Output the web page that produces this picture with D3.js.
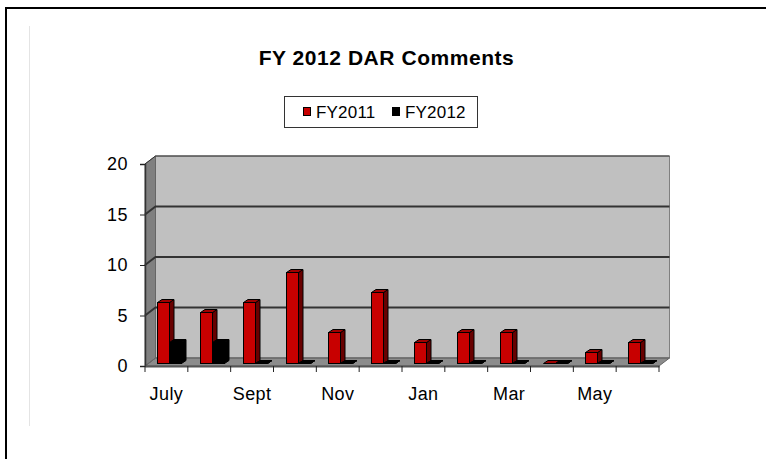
<!DOCTYPE html>
<html>
<head>
<meta charset="utf-8">
<script src="https://d3js.org/d3.v7.min.js"></script>
<style>
  body { margin: 0; background: #fff; }
  svg { display: block; }
  text { font-family: "Liberation Sans", Arial, sans-serif; fill: #000; }
  .axis path { display: none; }
  .axis line { stroke: #222; stroke-width: 1; }
</style>
</head>
<body>
<div id="chart"></div>
<script>
// Chart data
const months = ["July", "Aug", "Sept", "Oct", "Nov", "Dec", "Jan", "Feb", "Mar", "Apr", "May", "June"];
const shownMonths = ["July", "Sept", "Nov", "Jan", "Mar", "May"];
const seriesNames = ["FY2011", "FY2012"];
const fy2011 = [6, 5, 6, 9, 3, 7, 2, 3, 3, 0, 1, 2];
const fy2012 = [2, 2, 0, 0, 0, 0, 0, 0, 0, 0, 0, 0];
const valueTicks = [0, 5, 10, 15, 20];

const width = 766,
    height = 459;

// Front edge of the 3D box and how far the back wall is pushed away
const plotLeft = 145, plotRight = 659, plotTop = 164, plotBottom = 366;
const depthX = 10.5, depthY = -8;
// Bars stand in the middle of the floor
const barShiftX = 4.5, barShiftY = -3.5;
const barDepthX = 4.5, barDepthY = -3;

const colors = {
    FY2011: { front: "#c80000", top: "#a00000", side: "#680000" },
    FY2012: { front: "#000000", top: "#000000", side: "#000000" }
};

const x = d3.scaleBand().domain(months).range([plotLeft, plotRight]);
const xSeries = d3.scaleBand().domain(seriesNames).range([7.5, 31.5]);
const y = d3.scaleLinear().domain([0, 20]).range([plotBottom, plotTop]);

const svg = d3.select("#chart")
    .append("svg")
    .attr("width", width)
    .attr("height", height);

const poly = pts => pts.map(p => p.join(",")).join(" ");

// Page frame, open at the right and bottom
svg.append("path")
    .attr("d", `M6,${height} V8 H${width}`)
    .attr("fill", "none")
    .attr("stroke", "#000")
    .attr("stroke-width", 2);
svg.append("line")
    .attr("x1", 29.5).attr("x2", 29.5)
    .attr("y1", 26).attr("y2", 426)
    .attr("stroke", "#e4e4e4");

// Title
svg.append("text")
    .attr("x", 386.5)
    .attr("y", 65)
    .attr("text-anchor", "middle")
    .attr("font-size", 21)
    .attr("letter-spacing", 0.55)
    .attr("font-weight", "bold")
    .text("FY 2012 DAR Comments");

// Legend
const legend = svg.append("g");
legend.append("rect")
    .attr("x", 284.5).attr("y", 96.5)
    .attr("width", 193).attr("height", 31)
    .attr("fill", "#fff")
    .attr("stroke", "#333");
const legendX = d3.scaleOrdinal().domain(seriesNames).range([303, 392]);
seriesNames.forEach(name => {
    legend.append("rect")
        .attr("x", legendX(name) + 0.5).attr("y", 107.5)
        .attr("width", 7).attr("height", 8)
        .attr("fill", colors[name].front)
        .attr("stroke", "#000");
    legend.append("text")
        .attr("x", legendX(name) + 13)
        .attr("y", 118)
        .attr("font-size", 17)
        .attr("letter-spacing", 0.2)
        .text(name);
});

// Back wall, floor, side wall
svg.append("polygon")
    .attr("points", poly([[plotLeft + depthX, plotTop + depthY], [plotRight + depthX, plotTop + depthY], [plotRight + depthX, plotBottom + depthY], [plotLeft + depthX, plotBottom + depthY]]))
    .attr("fill", "#c0c0c0")
    .attr("stroke", "#808080");
svg.append("polygon")
    .attr("points", poly([[plotLeft, plotBottom], [plotLeft + depthX, plotBottom + depthY], [plotRight + depthX, plotBottom + depthY], [plotRight, plotBottom]]))
    .attr("fill", "#8c8c8c")
    .attr("stroke", "#666");
svg.append("polygon")
    .attr("points", poly([[plotLeft, plotTop], [plotLeft + depthX, plotTop + depthY], [plotLeft + depthX, plotBottom + depthY], [plotLeft, plotBottom]]))
    .attr("fill", "#808080")
    .attr("stroke", "#666");

// Gridlines run along the side wall and across the back wall
svg.append("g")
    .selectAll("path")
    .data(valueTicks)
    .join("path")
    .attr("d", d => `M${plotLeft},${y(d)} L${plotLeft + depthX},${y(d) + depthY} H${plotRight + depthX}`)
    .attr("fill", "none")
    .attr("stroke", d => d === 0 ? "#666" : "#333")
    .attr("stroke-width", d => (d === 0 || d === 20) ? 1 : 2);

// Axes
svg.append("g")
    .attr("class", "axis")
    .attr("transform", `translate(${plotLeft},0)`)
    .call(d3.axisLeft(y).tickValues(valueTicks).tickSize(5).tickPadding(12))
    .call(g => g.select(".domain").style("display", "inline").attr("stroke", "#333").attr("stroke-width", 1.5))
    .selectAll("text")
    .attr("font-size", 18)
    .attr("letter-spacing", 0.5)
    .attr("font-family", "Liberation Sans");

const xAxis = svg.append("g")
    .attr("class", "axis")
    .attr("transform", `translate(0,${plotBottom})`)
    .call(d3.axisBottom(x)
        .tickFormat(d => shownMonths.includes(d) ? d : "")
        .tickSize(0)
        .tickPadding(21));
xAxis.select(".domain").style("display", "inline").attr("stroke", "#555").attr("stroke-width", 2);
xAxis.selectAll("text")
    .attr("font-size", 18)
    .attr("letter-spacing", 0.4)
    .attr("font-family", "Liberation Sans");
xAxis.selectAll(".edge")
    .data(months.map(m => x(m)).concat(plotRight))
    .join("line")
    .attr("class", "edge")
    .attr("x1", d => d).attr("x2", d => d)
    .attr("y1", 0).attr("y2", 6);

// 3D bars, FY2012 drawn over the side of FY2011
const series = [
    { name: "FY2011", values: fy2011 },
    { name: "FY2012", values: fy2012 }
];

series.forEach(s => {
    const c = colors[s.name];
    const bars = svg.append("g")
        .selectAll("g")
        .data(s.values.map((v, i) => ({ month: months[i], value: v })))
        .join("g");

    // Snap to the pixel grid so the black outlines stay crisp
    const x0 = d => Math.round(x(d.month) + xSeries(s.name) + barShiftX) + 0.5;
    const x1 = d => x0(d) + xSeries.bandwidth();
    const yTop = d => Math.round(y(d.value) + barShiftY) + 0.5;
    const yBase = Math.round(plotBottom + barShiftY) + 0.5;

    bars.append("polygon")
        .attr("points", d => poly([[x1(d), yTop(d)], [x1(d) + barDepthX, yTop(d) + barDepthY], [x1(d) + barDepthX, yBase + barDepthY], [x1(d), yBase]]))
        .attr("fill", c.side)
        .attr("stroke", "#000");
    bars.append("polygon")
        .attr("points", d => poly([[x0(d), yTop(d)], [x0(d) + barDepthX, yTop(d) + barDepthY], [x1(d) + barDepthX, yTop(d) + barDepthY], [x1(d), yTop(d)]]))
        .attr("fill", c.top)
        .attr("stroke", "#000");
    bars.filter(d => d.value > 0).append("rect")
        .attr("x", x0)
        .attr("y", yTop)
        .attr("width", xSeries.bandwidth())
        .attr("height", d => yBase - yTop(d))
        .attr("fill", c.front)
        .attr("stroke", "#000");
});
</script>
</body>
</html>
